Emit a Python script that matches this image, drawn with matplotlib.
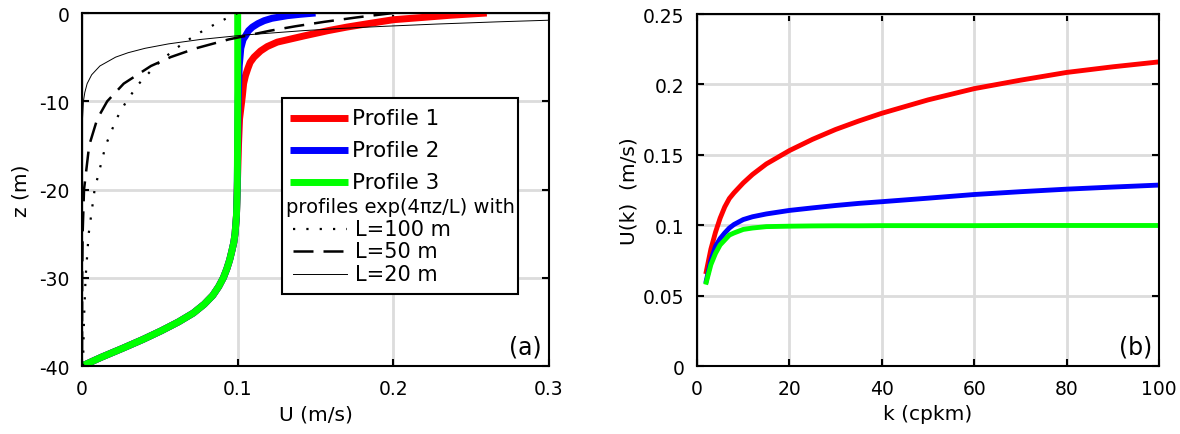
import numpy as np
import matplotlib
matplotlib.use("Agg")
import matplotlib.pyplot as plt
from matplotlib.patches import Rectangle

plt.rcParams['font.family'] = ['DejaVu Sans']
plt.rcParams['axes.unicode_minus'] = False

# ---- panel (a): velocity profiles U(z) ----
# deep part shared by the three profiles
z_deep = [-40, -39, -38, -37, -36, -35, -34, -33, -32, -31, -30, -29, -28, -27, -26, -25, -23, -20]
u_deep = [0.0, 0.0125, 0.026, 0.039, 0.051, 0.062, 0.0715, 0.0785, 0.084, 0.0878, 0.0908, 0.093,
          0.0948, 0.0962, 0.0975, 0.0983, 0.0992, 0.0997]

z_p1 = [-15, -12, -9.4, -8, -7.1, -6.3, -5.6, -5, -4.3, -3.8, -3.3, -2.6, -2, -1.6, -1.2, -0.76, -0.5, -0.25, 0]
u_p1 = [0.1005, 0.1012, 0.103, 0.1038, 0.105, 0.1065, 0.108, 0.1105, 0.1147, 0.119, 0.1254, 0.1425,
        0.158, 0.170, 0.184, 0.2, 0.219, 0.237, 0.26]

z_p2 = [-15, -10, -6, -4, -3, -2.6, -2, -1.6, -1.2, -0.87, -0.6, -0.3, -0.15, 0]
u_p2 = [0.1, 0.1003, 0.101, 0.102, 0.1035, 0.105, 0.107, 0.1094, 0.113, 0.117, 0.122, 0.132, 0.14, 0.15]

z_p3 = [-15, -10, 0]
u_p3 = [0.0999, 0.1, 0.1]

# reference exponential profiles
z_l100 = [0, -1, -2, -3, -4, -5, -6, -8, -10, -12, -15, -20, -25, -30, -35, -40]
u_l100 = [0.1, 0.0882, 0.0778, 0.0686, 0.0605, 0.0534, 0.0471, 0.0366, 0.0285, 0.0221, 0.0152,
          0.0081, 0.0043, 0.0023, 0.0012, 0.00066]

z_l50 = [0, -0.5, -1, -1.5, -2, -3, -4, -5, -6, -8, -10, -12, -15, -20, -25, -30, -40]
u_l50 = [0.2, 0.1764, 0.1556, 0.1372, 0.121, 0.0941, 0.0732, 0.0569, 0.0443, 0.0268, 0.0162,
         0.0098, 0.0046, 0.0013, 0.0004, 0.0001, 0.0]

z_l20 = [-0.4, -0.6, -0.8, -1, -1.25, -1.5, -1.75, -2, -2.5, -3, -3.5, -4, -4.5, -5, -6, -7, -8,
         -9, -10, -12, -15, -40]
u_l20 = [0.389, 0.343, 0.303, 0.267, 0.228, 0.195, 0.166, 0.142, 0.104, 0.076, 0.0555, 0.0405,
         0.0296, 0.0216, 0.0115, 0.0062, 0.0033, 0.0018, 0.0009, 0.0003, 0.0, 0.0]

# ---- panel (b): U(k) ----
k = [2, 3, 4, 5, 6, 7, 8, 10, 12, 15, 20, 25, 30, 35, 40, 50, 60, 70, 80, 90, 100]
uk_p1 = [0.067, 0.083, 0.095, 0.105, 0.113, 0.119, 0.123, 0.130, 0.136, 0.1435, 0.153, 0.161,
         0.168, 0.174, 0.1795, 0.189, 0.197, 0.203, 0.2085, 0.2125, 0.216]
uk_p2 = [0.0605, 0.075, 0.085, 0.0905, 0.0945, 0.098, 0.1005, 0.104, 0.106, 0.108, 0.1105, 0.1123,
         0.114, 0.1155, 0.1167, 0.1192, 0.1218, 0.1238, 0.1256, 0.1271, 0.1285]
uk_p3 = [0.0595, 0.072, 0.080, 0.086, 0.0895, 0.093, 0.0945, 0.097, 0.098, 0.099, 0.0993, 0.0995,
         0.0996, 0.0996, 0.0997, 0.0997, 0.0997, 0.0998, 0.0998, 0.0998, 0.0998]

red, blue, green = '#ff0000', '#0000ff', '#00ff00'
grid_c = '#dcdcdc'


def style_axes(ax):
    ax.grid(True, color=grid_c, lw=2)
    ax.set_axisbelow(True)
    for s in ax.spines.values():
        s.set_linewidth(1.5)
    ax.tick_params(direction='in', length=5, width=1.5, top=True, right=True,
                   labelsize=13.5, pad=9)


fig = plt.figure(figsize=(11.8, 4.35), dpi=100)

ax1 = fig.add_axes([0.0695, 0.1563, 0.3958, 0.8115])
ax1.plot(u_deep + u_p1, z_deep + z_p1, color=red, lw=5, solid_capstyle='butt')
ax1.plot(u_deep + u_p2, z_deep + z_p2, color=blue, lw=5, solid_capstyle='butt')
ax1.plot(u_deep + u_p3, z_deep + z_p3, color=green, lw=5, solid_capstyle='butt')
ax1.plot(u_l100, z_l100, color='k', lw=1.6, linestyle=(0, (1, 5)))
ax1.plot(u_l50, z_l50, color='k', lw=1.8, linestyle=(0, (8, 4)))
ax1.plot(u_l20, z_l20, color='k', lw=0.7)
ax1.set_xlim(0, 0.3)
ax1.set_ylim(-40, 0)
ax1.set_xticks([0, 0.1, 0.2, 0.3])
ax1.set_xticklabels(['0', '0.1', '0.2', '0.3'])
ax1.set_yticks([-40, -30, -20, -10, 0])
ax1.set_yticklabels(['-40', '-30', '-20', '-10', '0'])
ax1.set_xlabel('U (m/s)', fontsize=14.5, labelpad=5)
ax1.set_ylabel('z (m)', fontsize=14.5, labelpad=6)
style_axes(ax1)
ax1.text(0.985, 0.02, '(a)', transform=ax1.transAxes, ha='right', va='bottom', fontsize=17)

# legend box drawn by hand (one row has no line handle)
tr = ax1.transAxes
ax1.add_patch(Rectangle((0.428, 0.204), 0.506, 0.555, transform=tr, facecolor='white',
                        edgecolor='k', lw=1.5, zorder=5))
rows = [
    ('Profile 1', dict(color=red, lw=5), 0.703, 15.5),
    ('Profile 2', dict(color=blue, lw=5), 0.612, 15.5),
    ('Profile 3', dict(color=green, lw=5), 0.521, 15.5),
]
for label, st, y, fs in rows:
    ax1.plot([0.445, 0.570], [y, y], transform=tr, zorder=6, clip_on=False,
             solid_capstyle='butt', **st)
    ax1.text(0.578, y, label, transform=tr, va='center', ha='left', fontsize=fs, zorder=7)
ax1.text(0.437, 0.453, 'profiles exp(4\u03c0z/L) with', transform=tr, va='center', ha='left',
         fontsize=14, zorder=7)
rows = [
    ('L=100 m', dict(color='k', lw=1.6, linestyle=(0, (1, 5))), 0.388),
    ('L=50 m', dict(color='k', lw=1.8, linestyle=(0, (8, 4))), 0.326),
    ('L=20 m', dict(color='k', lw=0.7), 0.261),
]
for label, st, y in rows:
    ax1.plot([0.452, 0.567], [y, y], transform=tr, zorder=6, clip_on=False, **st)
    ax1.text(0.585, y, label, transform=tr, va='center', ha='left', fontsize=15, zorder=7)

ax2 = fig.add_axes([0.5907, 0.1563, 0.3915, 0.8092])
ax2.plot(k, uk_p1, color=red, lw=3.5)
ax2.plot(k, uk_p2, color=blue, lw=3.5)
ax2.plot(k, uk_p3, color=green, lw=3.5)
ax2.set_xlim(0, 100)
ax2.set_ylim(0, 0.25)
ax2.set_xticks([0, 20, 40, 60, 80, 100])
ax2.set_yticks([0, 0.05, 0.1, 0.15, 0.2, 0.25])
ax2.set_yticklabels(['0', '0.05', '0.1', '0.15', '0.2', '0.25'])
ax2.set_xlabel('k (cpkm)', fontsize=14.5, labelpad=5)
ax2.set_ylabel('U(k)  (m/s)', fontsize=14.5, labelpad=3)
style_axes(ax2)
ax2.text(0.985, 0.02, '(b)', transform=ax2.transAxes, ha='right', va='bottom', fontsize=17)

fig.savefig('out.png', dpi=100)
